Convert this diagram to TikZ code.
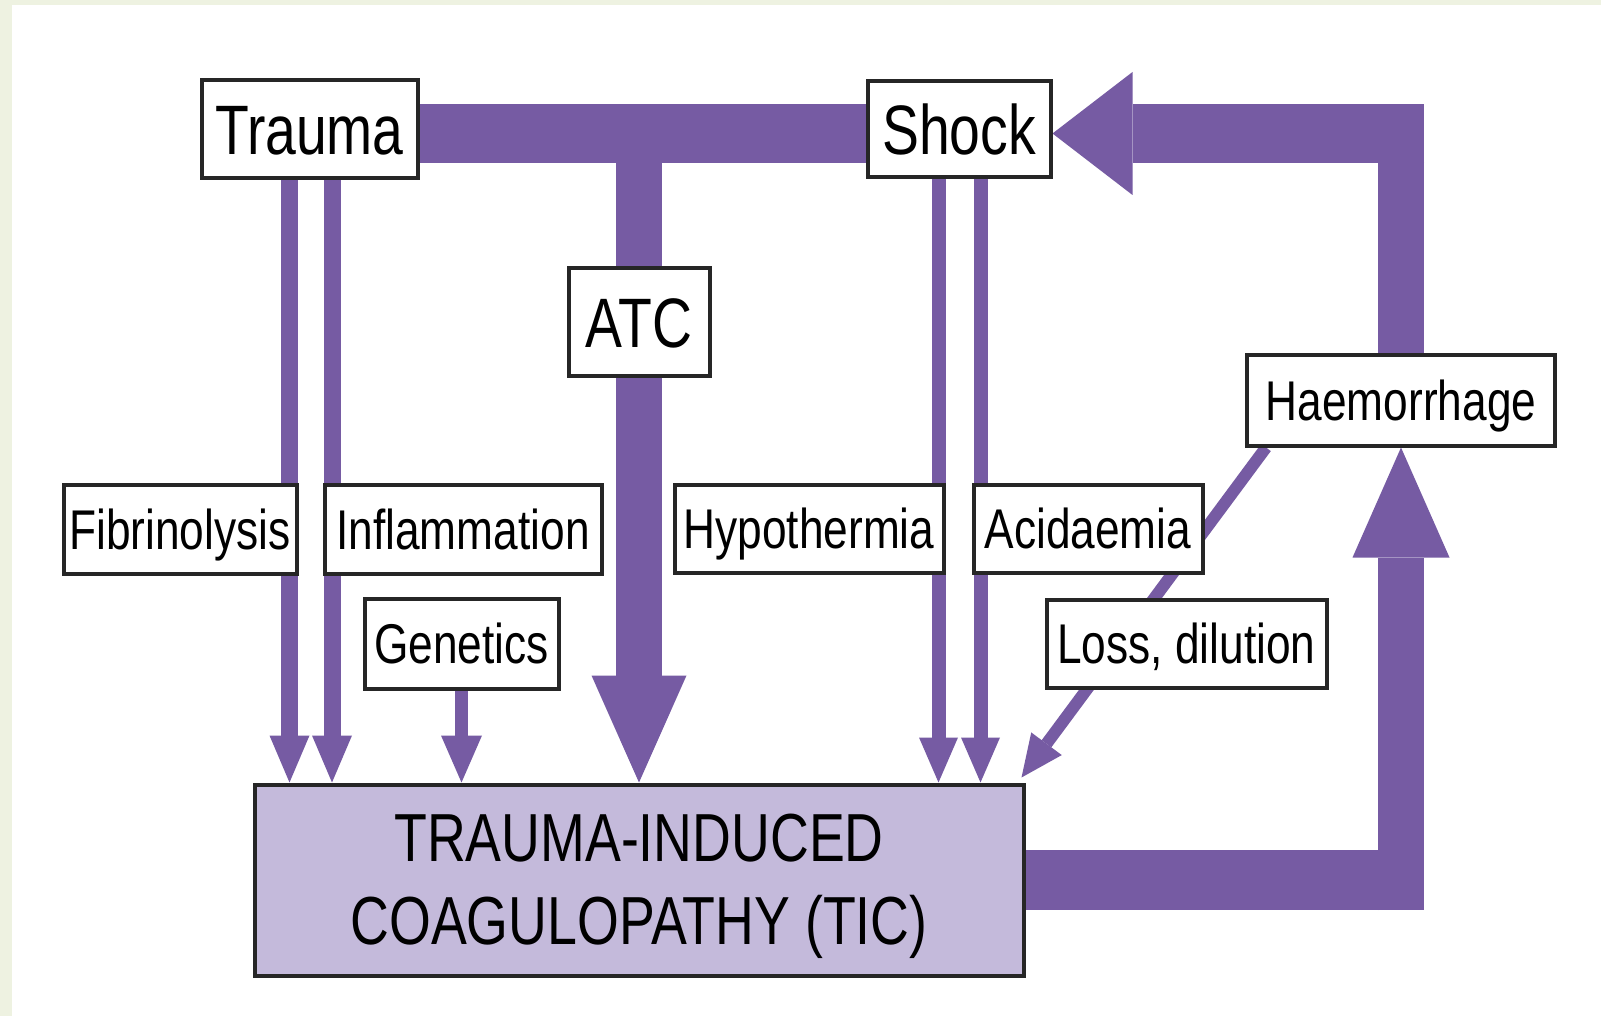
\documentclass[tikz,border=0pt]{standalone}
\usepackage{fontspec}
\newfontfamily\narrowsans{Liberation Sans}[FakeStretch=0.79]
\usepackage{xcolor}
\usepackage{tikz}
\usetikzlibrary{arrows.meta}
\pgfdeclarelayer{paper}
\pgfdeclarelayer{flows}
\pgfsetlayers{paper,flows,main}
\definecolor{ticpurple}{RGB}{118,91,163}
\definecolor{ticlilac}{RGB}{196,186,219}
\definecolor{paperedge}{RGB}{238,242,225}

\begin{document}
\begin{tikzpicture}[x=1pt, y=-1pt,
    labelbox/.style={draw=black!85, line width=4pt, fill=white, inner sep=0pt,
        font=\narrowsans\fontsize{56}{60}\selectfont, text height=40pt, text depth=0pt},
    bigbox/.style={labelbox, font=\narrowsans\fontsize{70}{76}\selectfont, text height=50pt},
    ticbox/.style={draw=black!85, line width=4pt, fill=ticlilac, inner sep=0pt, align=center,
        font=\narrowsans\fontsize{68}{83}\selectfont},
    flow/.style args={#1/#2/#3}{ticpurple, line width=#1,
        -{Triangle[width=#2, length=#3, line width=0pt]}}]
    \useasboundingbox (0,0) rectangle (1601,1016);
    \begin{pgfonlayer}{paper}
        \fill[paperedge] (0,0) rectangle (1601,1016);
        \fill[white] (12,5) rectangle (1601,1016);
    \end{pgfonlayer}

    % Boxes
    \node[bigbox, minimum width=216pt, minimum height=98pt] (trauma) at (309.5,129.5) {Trauma};
    \node[bigbox, minimum width=183pt, minimum height=96pt] (shock) at (959,129.5) {Shock};
    \node[bigbox, minimum width=141pt, minimum height=107pt] (atc) at (639,322) {ATC};
    \node[labelbox, minimum width=233pt, minimum height=89pt] (fibrinolysis) at (180,529) {Fibrinolysis};
    \node[labelbox, minimum width=277pt, minimum height=89pt] (inflammation) at (463,529) {Inflammation};
    \node[labelbox, minimum width=194pt, minimum height=90pt] (genetics) at (461.5,643.5) {Genetics};
    \node[labelbox, minimum width=269pt, minimum height=88pt] (hypothermia) at (809,528.5) {Hypothermia};
    \node[labelbox, minimum width=229pt, minimum height=88pt] (acidaemia) at (1088,528.5) {Acidaemia};
    \node[labelbox, minimum width=280pt, minimum height=88pt] (loss) at (1186.5,643.5) {Loss, dilution};
    \node[labelbox, minimum width=308pt, minimum height=91pt] (haemorrhage) at (1401,400) {Haemorrhage};
    \node[ticbox, minimum width=769pt, minimum height=191pt] (tic) at (639,880)
        {TRAUMA-INDUCED\\COAGULOPATHY \smash{(TIC)}};

    \coordinate (topturn) at ([yshift=-4pt]haemorrhage.north |- shock.east);
    \coordinate (bottomturn) at (haemorrhage.south |- tic.east);

    % Arrows
    \begin{pgfonlayer}{flows}
        \draw[flow={17pt/40pt/47pt}] ([xshift=-20pt]trauma.south) -- ([xshift=-20pt]trauma.south |- tic.north);
        \draw[flow={17pt/40pt/47pt}] ([xshift=22.5pt]trauma.south) -- ([xshift=22.5pt]trauma.south |- tic.north);
        \draw[flow={13pt/41pt/47pt}] (genetics.south) -- (genetics.south |- tic.north);
        \draw[flow={14pt/39pt/45pt}] ([xshift=-20.5pt]shock.south) -- ([xshift=-20.5pt]shock.south |- tic.north);
        \draw[flow={14pt/39pt/45pt}] ([xshift=21.5pt]shock.south) -- ([xshift=21.5pt]shock.south |- tic.north);
        \draw[flow={12pt/38pt/42pt}] ([xshift=21pt]haemorrhage.south west) -- ([shift={(-4,-5)}]tic.north east);

        \draw[ticpurple, line width=59pt] ([yshift=-4pt]trauma.east) -- ([yshift=-4pt]shock.west);
        \draw[ticpurple, line width=46pt] ([yshift=-4pt]trauma.east -| atc.north) -- (atc.north);
        \draw[flow={46pt/95pt/107pt}] (atc.south) -- (atc.south |- tic.north);

        \draw[ticpurple, line width=60pt] (tic.east) -- ([xshift=23pt]bottomturn);
        \draw[flow={46pt/97pt/110pt}] ([yshift=-30pt]bottomturn) -- (haemorrhage.south);
        \draw[ticpurple, line width=46pt] (haemorrhage.north) -- ([yshift=29.5pt]topturn);
        \draw[flow={59pt/123pt/80pt}] ([xshift=23pt]topturn) -- ([yshift=-4pt]shock.east);
    \end{pgfonlayer}
\end{tikzpicture}
\end{document}
